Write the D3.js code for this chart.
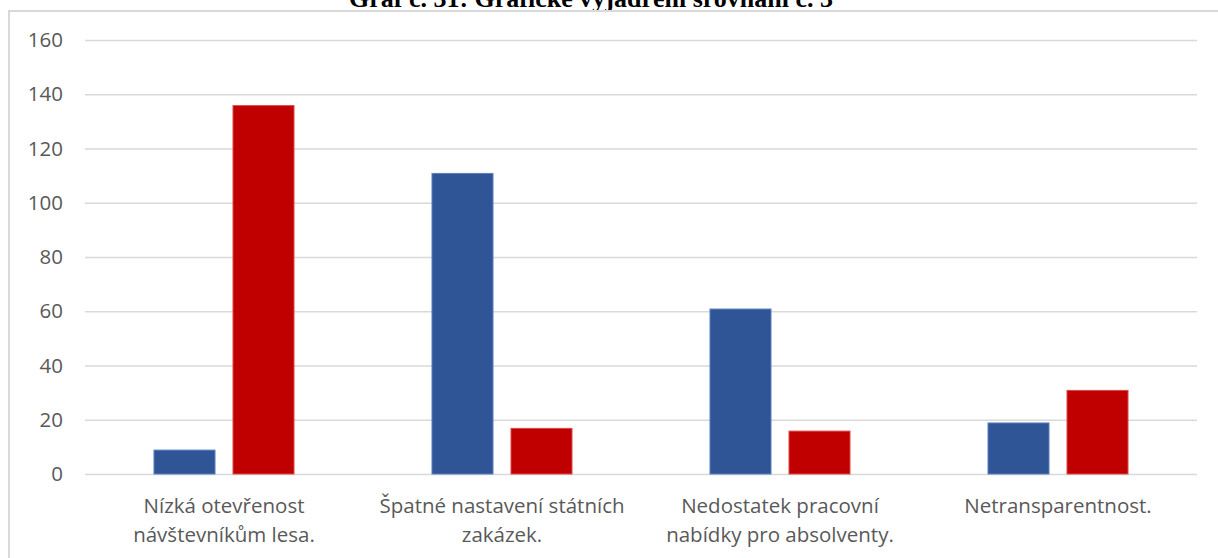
<!DOCTYPE html>
<html>
<head>
<meta charset="utf-8">
<script src="https://cdn.jsdelivr.net/npm/d3@7"></script>
<style>
  html, body { margin: 0; padding: 0; background: #fff; }
  svg { display: block; }
</style>
</head>
<body>
<svg id="chart" width="1218" height="558"></svg>
<script>
// Categories (two-line labels) and the two compared series
const categories = [
  ["Nízká otevřenost", "návštevníkům lesa."],
  ["Špatné nastavení státních", "zakázek."],
  ["Nedostatek pracovní", "nabídky pro absolventy."],
  ["Netransparentnost."]
];
const seriesA = [9, 111, 61, 19];
const seriesB = [136, 17, 16, 31];
const yTicks = [0, 20, 40, 60, 80, 100, 120, 140, 160];
const titleText = "Graf č. 31: Grafické vyjádření srovnání č. 3";

const colors = ["#2F5597", "#C00000"];
const edgeColors = ["#5B7FC0", "#E04848"];
const labelFont = "'Open Sans', sans-serif";
const labelSize = 20.5;

const svg = d3.select("#chart");
const W = 1218, H = 558;
const plot = { left: 85, right: 1197, top: 40, bottom: 474 };

// Title sits just above the chart frame
svg.append("text")
  .attr("x", 591)
  .attr("y", 7)
  .attr("text-anchor", "middle")
  .attr("font-family", "'Liberation Serif', 'Times New Roman', serif")
  .attr("font-weight", "bold")
  .attr("font-size", 26)
  .attr("fill", "#000")
  .text(titleText);

// Frame of the chart area
svg.append("path")
  .attr("d", `M9,${H + 5} L9,11 L${W + 5},11`)
  .attr("fill", "none")
  .attr("stroke", "#D9D9D9")
  .attr("stroke-width", 2);

const y = d3.scaleLinear().domain([0, 160]).range([plot.bottom, plot.top]);
const keys = categories.map((c, i) => i);
const x0 = d3.scaleBand().domain(keys).range([plot.left, plot.right]).padding(0);
const x1 = d3.scaleBand().domain([0, 1]).range([0, x0.bandwidth()])
  .paddingInner(0.215).paddingOuter(0.867);

// Gridlines and value axis
const yAxis = d3.axisLeft(y).tickValues(yTicks)
  .tickSize(-(plot.right - plot.left)).tickPadding(22);
const gy = svg.append("g")
  .attr("transform", `translate(${plot.left},0)`)
  .call(yAxis);
gy.select(".domain").remove();
gy.selectAll(".tick line").attr("stroke", "#D9D9D9").attr("stroke-width", 1.5);
gy.selectAll(".tick text")
  .attr("font-family", labelFont)
  .attr("font-size", labelSize)
  .attr("fill", "#595959");

// Bars
const rows = keys.map(i => ({ i, vals: [seriesA[i], seriesB[i]] }));
const groups = svg.append("g").selectAll("g").data(rows).join("g")
  .attr("transform", d => `translate(${x0(d.i)},0)`);
groups.selectAll("rect")
  .data(d => d.vals.map((v, s) => ({ v, s })))
  .join("rect")
  .attr("x", d => x1(d.s) + 0.5)
  .attr("y", d => y(d.v) + 0.5)
  .attr("width", x1.bandwidth() - 1)
  .attr("height", d => y(0) - y(d.v) - 0.5)
  .attr("fill", d => colors[d.s])
  .attr("stroke", d => edgeColors[d.s])
  .attr("stroke-width", 1);

// Category labels
const xl = svg.append("g").selectAll("text").data(rows).join("text")
  .attr("x", d => x0(d.i) + x0.bandwidth() / 2)
  .attr("y", 513)
  .attr("text-anchor", "middle")
  .attr("font-family", labelFont)
  .attr("font-size", labelSize)
  .attr("fill", "#595959");
xl.selectAll("tspan").data(d => categories[d.i]).join("tspan")
  .attr("x", function () { return d3.select(this.parentNode).attr("x"); })
  .attr("dy", (d, k) => k === 0 ? 0 : 29)
  .text(d => d);
</script>
</body>
</html>
